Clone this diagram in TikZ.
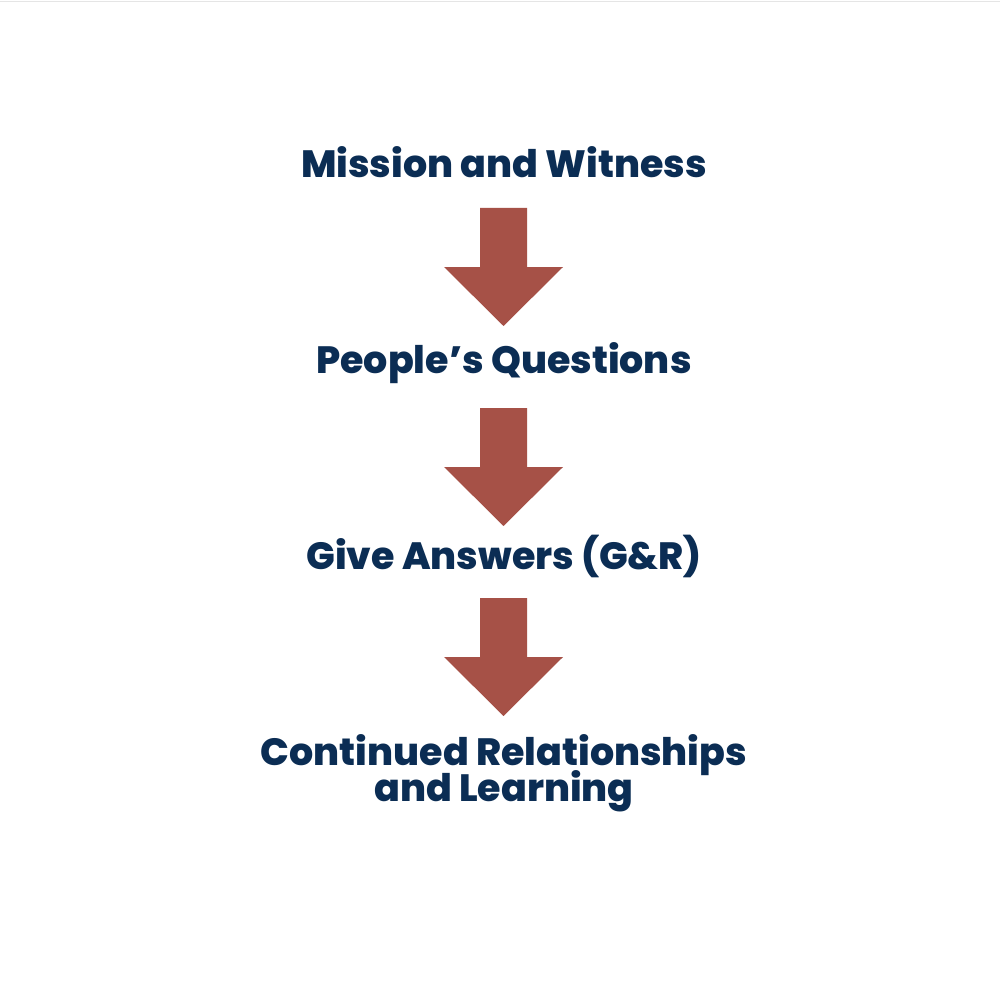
\documentclass[tikz,border=0pt]{standalone}
\usepackage{fontspec}
\IfFontExistsTF{Poppins ExtraBold}
  {\newfontfamily\lblfont{Poppins ExtraBold}}
  {\newfontfamily\lblfont{Poppins Bold}}
\usetikzlibrary{calc}
\definecolor{navy}{RGB}{11,45,84}
\definecolor{brick}{RGB}{166,81,71}
\tikzset{
  lbl/.style={anchor=base, inner sep=0pt, text=navy, font=\lblfont\fontsize{38}{34}\selectfont, align=center},
  blockarrow/.style={fill=brick},
}
\newcommand{\blockarr}[2]{%
  \fill[blockarrow] ($(#1)+(-23.5,0)$) -- ($(#1)+(23.5,0)$) -- ($(#1)+(23.5,59)$) -- ($(#1)+(59.5,59)$) -- (#2) -- ($(#1)+(-59.5,59)$) -- ($(#1)+(-23.5,59)$) -- cycle;}
\begin{document}
\begin{tikzpicture}[x=1pt,y=-1pt]
\useasboundingbox (0,0) rectangle (1000,1000);
\fill[white] (0,0) rectangle (1000,1000);
\draw[gray!20, line width=1pt] (0,1.5) -- (1000,1.5);
\node[lbl] (n1) at (504,178) {Mission and Witness};
\node[lbl] (n2) at (504,373) {People’s Questions};
\node[lbl] (n3) at (504,569) {Give Answers (G\&R)};
\node[lbl, anchor=north] (n4) at (504,734) {Continued Relationships\\[-6pt]and Learning};
\coordinate (t1) at (503.5,208); \coordinate (b1) at (503.5,326);
\coordinate (t2) at (503.5,408); \coordinate (b2) at (503.5,526);
\coordinate (t3) at (503.5,598); \coordinate (b3) at (503.5,716);
\blockarr{t1}{b1}
\blockarr{t2}{b2}
\blockarr{t3}{b3}
\end{tikzpicture}
\end{document}
